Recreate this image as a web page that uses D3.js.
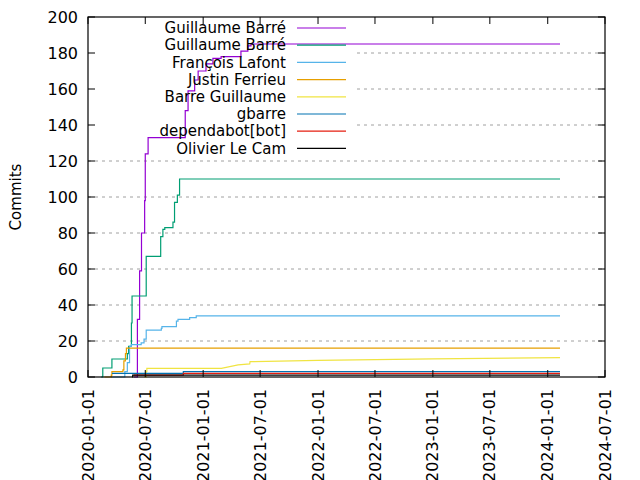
<!DOCTYPE html>
<html><head><meta charset="utf-8">
<script src="https://cdn.jsdelivr.net/npm/d3@7"></script>
<style>body{margin:0;background:#fff}svg{font-family:"DejaVu Sans",sans-serif}</style>
</head><body><svg id="c" width="640" height="480"></svg>
<script>
const names = ["Guillaume Barré","Guillaume Barré","François Lafont","Justin Ferrieu","Barre Guillaume","gbarre","dependabot[bot]","Olivier Le Cam"];
const colors = ["#9400d3","#009e73","#56b4e9","#e69f00","#f0e442","#0072b2","#e51e10","#000000"];
const END = "2024-02-09";
const s1 = [["2020-05-26",0],["2020-06-06",32],["2020-06-13",59],["2020-06-19",80],["2020-06-29",98],["2020-07-01",124],["2020-07-10",133],["2020-11-04",133],["2020-11-05",148],["2020-11-14",159],["2020-12-05",165],["2020-12-16",170],["2021-01-10",174],["2021-02-01",177],["2021-02-27",178],["2021-05-01",181],["2021-05-23",184],["2021-06-02",185],[END,185]];
const s2 = [["2020-02-12",0],["2020-02-17",5],["2020-03-17",10],["2020-05-05",13],["2020-05-09",17],["2020-05-18",30],["2020-05-20",45],["2020-07-04",67],["2020-08-19",78],["2020-08-26",82],["2020-09-01",83],["2020-09-27",86],["2020-10-02",97],["2020-10-11",101],["2020-10-18",110],[END,110]];
const s3 = [["2020-03-15",0],["2020-04-27",3],["2020-05-05",8],["2020-05-12",17],["2020-05-18",18],["2020-06-18",19],["2020-06-27",21],["2020-07-04",26],["2020-08-21",27],["2020-08-23",28],["2020-10-08",31],["2020-10-13",32],["2020-11-19",33],["2020-12-10",34],[END,34]];
const s4 = [["2020-02-22",0],["2020-03-15",1],["2020-03-17",3],["2020-04-21",4],["2020-04-24",9],["2020-04-29",13],["2020-05-02",16],[END,16]];
const s5 = [["2020-06-28",0],["2020-07-04",0],["2020-07-04",3],["2020-07-06",3],["2020-07-06",4.8],["2021-02-28",4.8],["2021-04-22",6.7],["2021-05-29",7.3],["2021-05-30",8.5],["2022-01-01",9.2],["2023-01-01",10.1],[END,10.8]];
const s6 = [["2020-03-17",2],["2020-10-29",2],["2020-10-30",3],[END,3]];
const s7 = [["2020-05-25",1],["2020-10-29",1],["2020-10-30",2],[END,2]];
const s8 = [["2020-05-20",0],["2020-05-22",1],[END,1]];
const series = [s1,s2,s3,s4,s5,s6,s7,s8];
const yTicks = [0,20,40,60,80,100,120,140,160,180,200];
const xTicks = ["2020-01-01","2020-07-01","2021-01-01","2021-07-01","2022-01-01","2022-07-01","2023-01-01","2023-07-01","2024-01-01","2024-07-01"];

const L=88,R=605,T=17,B=377;
const svg=d3.select("#c");
const p=d3.timeParse("%Y-%m-%d");
const x=d3.scaleTime().domain([p("2020-01-01"),p("2024-07-01")]).range([L,R]);
const y=d3.scaleLinear().domain([0,200]).range([B,T]);
const fs=15;
yTicks.slice(1,-1).forEach(v=>{
  const yy=y(v); const x0 = (yy<158)?357:L;
  svg.append("line").attr("x1",x0).attr("x2",R).attr("y1",yy).attr("y2",yy)
    .attr("stroke","#a0a0a0").attr("stroke-dasharray","3,4").attr("stroke-width",1);
});
const step=d3.line().x(d=>x(p(d[0]))).y(d=>y(d[1])).curve(d3.curveStepAfter);
const lin=d3.line().x(d=>x(p(d[0]))).y(d=>y(d[1]));
series.forEach((s,i)=>{
  svg.append("path").attr("d",(i===4?lin:step)(s)).attr("fill","none").attr("stroke",colors[i]).attr("stroke-width",1.2);
});
svg.append("rect").attr("x",L).attr("y",T).attr("width",R-L).attr("height",B-T).attr("fill","none").attr("stroke","#000").attr("stroke-width",1.2);
yTicks.forEach(v=>{
  const yy=y(v);
  svg.append("line").attr("x1",L).attr("x2",L+7).attr("y1",yy).attr("y2",yy).attr("stroke","#000");
  svg.append("line").attr("x1",R).attr("x2",R-7).attr("y1",yy).attr("y2",yy).attr("stroke","#000");
  svg.append("text").attr("x",L-10).attr("y",yy).attr("dy","0.35em").attr("text-anchor","end").attr("font-size",fs+1).text(v);
});
xTicks.forEach(t=>{
  const xx=x(p(t));
  svg.append("line").attr("x1",xx).attr("x2",xx).attr("y1",B).attr("y2",B-7).attr("stroke","#000");
  svg.append("line").attr("x1",xx).attr("x2",xx).attr("y1",T).attr("y2",T+7).attr("stroke","#000");
  svg.append("text").attr("transform",`translate(${xx},${B+12}) rotate(-90)`).attr("dy","0.35em").attr("text-anchor","end").attr("font-size",fs+1).text(t);
});
svg.append("text").attr("transform",`translate(16,197) rotate(-90)`).attr("dy","0.35em").attr("text-anchor","middle").attr("font-size",fs).text("Commits");
names.forEach((n,i)=>{
  const yy=28+i*17.2;
  svg.append("text").attr("x",286).attr("y",yy).attr("dy","0.35em").attr("text-anchor","end").attr("font-size",fs).text(n);
  svg.append("line").attr("x1",297).attr("x2",346).attr("y1",yy).attr("y2",yy).attr("stroke",colors[i]).attr("stroke-width",1.2);
});
</script></body></html>
